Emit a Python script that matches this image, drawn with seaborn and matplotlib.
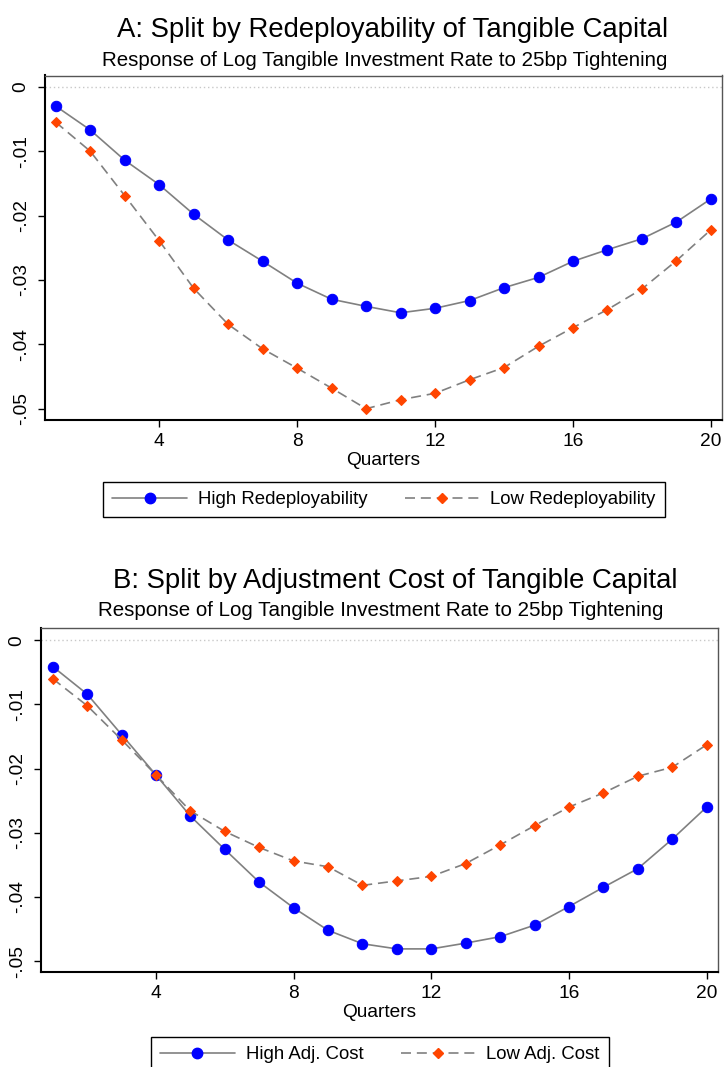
import matplotlib
matplotlib.use("Agg")
import matplotlib.pyplot as plt
import seaborn as sns
import pandas as pd
from matplotlib.lines import Line2D

quarters = list(range(1, 21))

# Panel A
high_redeploy = [-0.0030, -0.0067, -0.0114, -0.0152, -0.0198, -0.0238, -0.0271, -0.0305,
                 -0.0330, -0.0341, -0.0351, -0.0344, -0.0332, -0.0312, -0.0296, -0.0271,
                 -0.0253, -0.0236, -0.0210, -0.0174]
low_redeploy = [-0.0055, -0.0100, -0.0169, -0.0239, -0.0313, -0.0369, -0.0407, -0.0437,
                -0.0468, -0.0500, -0.0486, -0.0476, -0.0455, -0.0436, -0.0403, -0.0374,
                -0.0346, -0.0314, -0.0270, -0.0222]

# Panel B
high_adj = [-0.0041, -0.0084, -0.0147, -0.0210, -0.0274, -0.0326, -0.0377, -0.0417,
            -0.0452, -0.0473, -0.0481, -0.0481, -0.0472, -0.0462, -0.0444, -0.0415,
            -0.0385, -0.0356, -0.0310, -0.0260]
low_adj = [-0.0060, -0.0102, -0.0155, -0.0210, -0.0266, -0.0298, -0.0323, -0.0344,
           -0.0353, -0.0382, -0.0375, -0.0368, -0.0348, -0.0319, -0.0289, -0.0260,
           -0.0238, -0.0212, -0.0198, -0.0163]

titles = ["A: Split by Redeployability of Tangible Capital",
          "B: Split by Adjustment Cost of Tangible Capital"]
subtitle = "Response of Log Tangible Investment Rate to 25bp Tightening"
labels_a = ["High Redeployability", "Low Redeployability"]
labels_b = ["High Adj. Cost", "Low Adj. Cost"]
yticks = [0, -0.01, -0.02, -0.03, -0.04, -0.05]
ytick_labels = ["0", "-.01", "-.02", "-.03", "-.04", "-.05"]
xticks = [4, 8, 12, 16, 20]

sns.set_theme(style="white")
plt.rcParams["font.family"] = ["Liberation Sans", "DejaVu Sans"]
plt.rcParams["text.color"] = "black"
plt.rcParams["axes.labelcolor"] = "black"
plt.rcParams["xtick.color"] = "black"
plt.rcParams["ytick.color"] = "black"

W, H = 726, 1067
fig = plt.figure(figsize=(W / 100, H / 100), dpi=100)

BLUE = "#0000ff"
ORANGE = "#ff4500"
GRAY = "#808080"
FS = 13.8
LFS = 13.4


def px_axes(left, top, right, bottom):
    return fig.add_axes([left / W, (H - bottom) / H, (right - left) / W, (bottom - top) / H])


def panel(ax, high, low, ylim, xlim):
    df = pd.DataFrame({"q": quarters, "high": high, "low": low})
    ax.axhline(0, color="#c8c8c8", lw=1.0, ls=(0, (1, 2)), zorder=1)
    sns.lineplot(data=df, x="q", y="high", ax=ax, color=GRAY, lw=1.2,
                 marker="o", markersize=7.5, markerfacecolor=BLUE,
                 markeredgecolor=BLUE, zorder=3)
    sns.lineplot(data=df, x="q", y="low", ax=ax, color=GRAY, lw=1.2,
                 linestyle=(0, (6, 3.5)), marker="D", markersize=5.5,
                 markerfacecolor=ORANGE, markeredgecolor=ORANGE, zorder=3)
    ax.set_xlim(*xlim)
    ax.set_ylim(*ylim)
    ax.set_xticks(xticks)
    ax.set_xticklabels([str(t) for t in xticks])
    ax.set_yticks(yticks)
    ax.set_yticklabels(ytick_labels, rotation=90, va="center")
    ax.tick_params(axis="both", which="major", direction="out", length=5, width=1,
                   color="black", labelsize=FS, labelcolor="black", bottom=True, left=True)
    ax.tick_params(axis="y", pad=6)
    ax.tick_params(axis="x", pad=4)
    ax.set_xlabel("Quarters", fontsize=FS, labelpad=2, color="black")
    ax.set_ylabel("")
    for s in ["left", "bottom"]:
        ax.spines[s].set_color("black")
        ax.spines[s].set_linewidth(1.5)
    for s in ["top", "right"]:
        ax.spines[s].set_color("#555555")
        ax.spines[s].set_linewidth(1.0)
    handles = [
        Line2D([], [], color=GRAY, lw=1.2, marker="o", markersize=7.5,
               markerfacecolor=BLUE, markeredgecolor=BLUE),
        Line2D([], [], color=GRAY, lw=1.2, linestyle=(0, (6, 3.5)), marker="D",
               markersize=5.5, markerfacecolor=ORANGE, markeredgecolor=ORANGE),
    ]
    return handles


axA = px_axes(45, 75.5, 722, 420)
hA = panel(axA, high_redeploy, low_redeploy, (-0.05175, 0.00175), (0.69, 20.32))
axB = px_axes(41, 628, 718, 972)
hB = panel(axB, high_adj, low_adj, (-0.0517, 0.0019), (0.66, 20.33))

TFS = 19.8
SFS = 14.8
fig.text(393 / W, (H - 37.3) / H, titles[0], ha="center", va="baseline", fontsize=TFS)
fig.text(385 / W, (H - 66) / H, subtitle, ha="center", va="baseline", fontsize=SFS)
fig.text(395 / W, (H - 587.7) / H, titles[1], ha="center", va="baseline", fontsize=TFS)
fig.text(380.5 / W, (H - 616) / H, subtitle, ha="center", va="baseline", fontsize=SFS)

legend_kw = dict(loc="center", ncol=2, fontsize=LFS, frameon=True, fancybox=False,
                 edgecolor="black", framealpha=1, handlelength=4, handletextpad=0.6,
                 columnspacing=2, numpoints=1, borderpad=0.5)
legA = fig.legend(hA, labels_a, bbox_to_anchor=(384 / W, (H - 499.5) / H), **legend_kw)
legB = fig.legend(hB, labels_b, bbox_to_anchor=(380 / W, (H - 1054.5) / H), **legend_kw)
for leg in (legA, legB):
    leg.get_frame().set_linewidth(1.0)
    for t in leg.get_texts():
        t.set_color("black")

fig.savefig("out.png", dpi=100)
